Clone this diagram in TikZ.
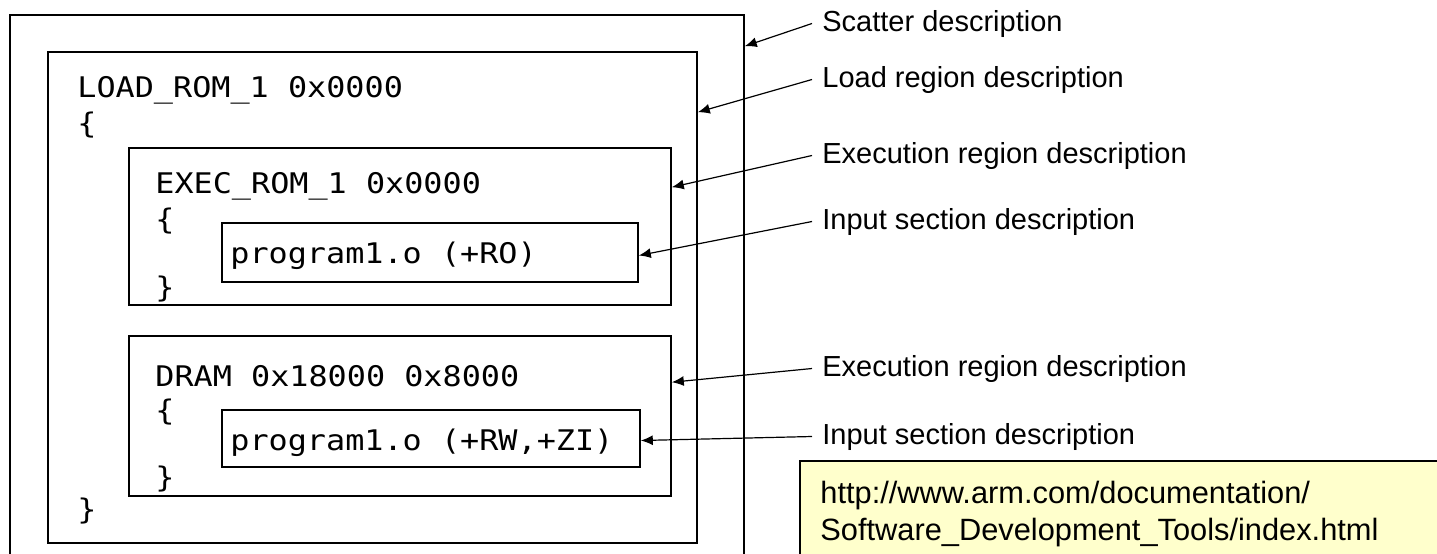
\documentclass[tikz,border=0pt]{standalone}
\usepackage{fontspec}
\setmainfont{Liberation Sans}
\newfontfamily\codefont[FakeStretch=1.12]{DejaVu Sans Mono}
\usetikzlibrary{arrows.meta, positioning, calc, fit}
\definecolor{noteYellow}{HTML}{FFFFCC}

\begin{document}
\begin{tikzpicture}[x=0.5pt, y=-0.5pt,
      region/.style={draw, line width=0.8pt, inner sep=0pt},
      code/.style={anchor=base west, inner sep=0pt,
        font=\codefont\fontsize{14.2pt}{17pt}\selectfont},
      desc/.style={anchor=base west, inner sep=0pt, inner xsep=5pt,
        font=\fontsize{14.5pt}{17pt}\selectfont},
      urltext/.style={anchor=base west, inner sep=0pt,
        font=\fontsize{15.4pt}{18pt}\selectfont},
      lead/.style={-{Latex[length=6pt, width=5pt]}, line width=0.6pt}]
    \useasboundingbox (0,0) rectangle (1437,553);
    % scatter
    \node[region, fit={(10,15) (744,575)}] (scatter) {};
    % load region
    \node[region, fit={(48,52) (697,543)}] (load) {};
    \node[code] (loadhead) at (77,97) {LOAD\_ROM\_1 0x0000};
    \node[code] (loadopen) at (77,133) {\{};
    \node[code] (loadclose) at (77,519) {\}};
    % execution region 1
    \node[region, fit={(129,148) (671,305)}] (execrom) {};
    \node[code] (exechead) at (155,193) {EXEC\_ROM\_1 0x0000};
    \node[code] (execopen) at (155,229) {\{};
    \node[region, fit={(222,223) (638,282)}] (rosec) {};
    \node[code] (rotext) at (230,263) {program1.o (+RO)};
    \node[code] (execclose) at (155,297) {\}};
    % execution region 2
    \node[region, fit={(129,336) (671,496)}] (dram) {};
    \node[code] (dramhead) at (155,386) {DRAM 0x18000 0x8000};
    \node[code] (dramopen) at (155,420) {\{};
    \node[region, fit={(222,410) (640,467)}] (rwsec) {};
    \node[code] (rwtext) at (230,450) {program1.o (+RW,+ZI)};
    \node[code] (dramclose) at (155,487) {\}};
    % descriptions
    \node[desc] (lblscatter) at (812,31)  {Scatter description};
    \node[desc] (lblload)    at (812,87)  {Load region description};
    \node[desc] (lblexec)    at (812,163) {Execution region description};
    \node[desc] (lblro)      at (812,229) {Input section description};
    \node[desc] (lbldram)    at (812,376) {Execution region description};
    \node[desc] (lblrw)      at (812,444) {Input section description};
    \draw[lead] (lblscatter.west) -- ($(scatter.north east)+(0,32)$);
    \draw[lead] (lblload.west)    -- ($(load.north east)+(0,61)$);
    \draw[lead] (lblexec.west)    -- ($(execrom.north east)+(0,40)$);
    \draw[lead] (lblro.west)      -- ($(rosec.east)+(0,3)$);
    \draw[lead] (lbldram.west)    -- ($(dram.north east)+(0,47)$);
    \draw[lead] (lblrw.west)      -- ($(rwsec.east)+(0,2)$);
    % note
    \node[region, line width=1.3pt, fill=noteYellow, fit={(800,461) (1460,580)}] (note) {};
    \node[urltext] (urlone) at (820,503) {http://www.arm.com/documentation/};
    \node[urltext] (urltwo) at (820,540) {Software\_Development\_Tools/index.html};
  \end{tikzpicture}
\end{document}
